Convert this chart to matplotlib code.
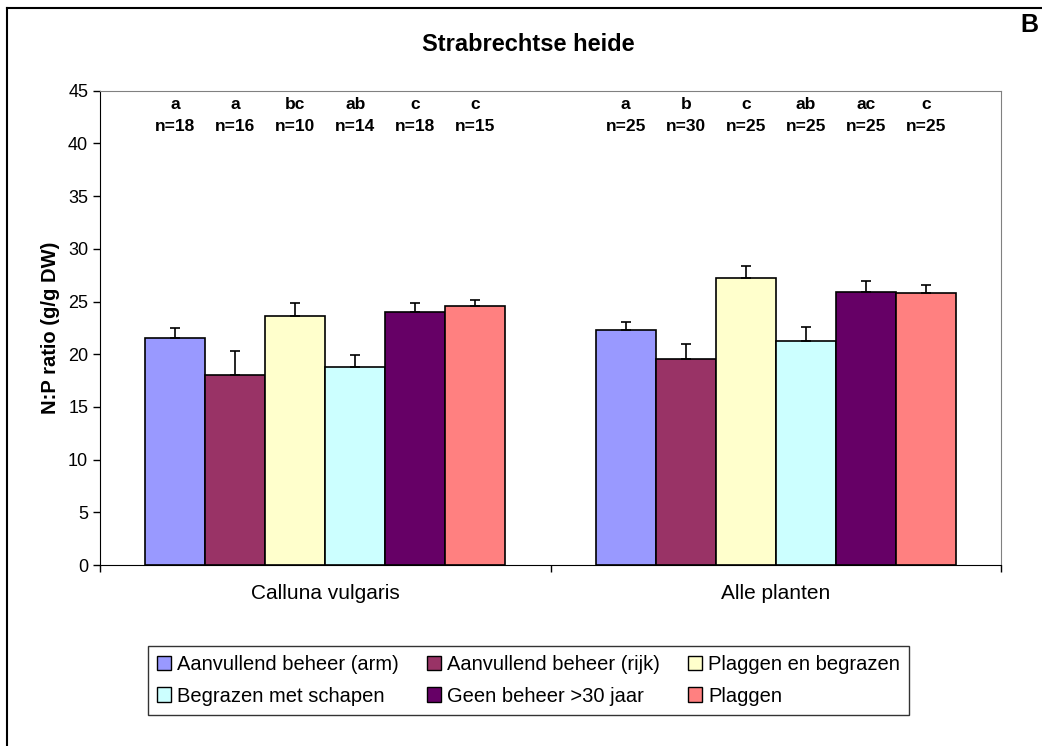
import numpy as np
import matplotlib
matplotlib.use("Agg")
import matplotlib.pyplot as plt
from matplotlib.lines import Line2D
from matplotlib.patches import Patch

plt.rcParams['font.family'] = ['Liberation Sans', 'DejaVu Sans']

groepen = ['Calluna vulgaris', 'Alle planten']
behandelingen = ['Aanvullend beheer (arm)', 'Aanvullend beheer (rijk)', 'Plaggen en begrazen',
                 'Begrazen met schapen', 'Geen beheer >30 jaar', 'Plaggen']
kleuren = ['#9999FF', '#993366', '#FFFFCC', '#CCFFFF', '#660066', '#FF8080']

# N:P ratio per behandeling, [Calluna, Alle planten]
np_ratio = [[21.5, 22.3],
            [18.0, 19.5],
            [23.6, 27.2],
            [18.8, 21.3],
            [24.0, 25.9],
            [24.6, 25.8]]
fout = [[1.0, 0.8],
        [2.3, 1.5],
        [1.3, 1.2],
        [1.1, 1.3],
        [0.9, 1.0],
        [0.5, 0.8]]
letters = [['a', 'a', 'bc', 'ab', 'c', 'c'],
           ['a', 'b', 'c', 'ab', 'ac', 'c']]
n_waarden = [['n=18', 'n=16', 'n=10', 'n=14', 'n=18', 'n=15'],
             ['n=25', 'n=30', 'n=25', 'n=25', 'n=25', 'n=25']]

fig = plt.figure(figsize=(10.42, 7.46), dpi=100)
ax = fig.add_axes([0.096, 0.2426, 0.8647, 0.6358])

x = np.arange(len(groepen))
w = 0.8 / len(behandelingen)
for j in range(len(behandelingen)):
    pos = x + (j - 2.5) * w
    ax.bar(pos, np_ratio[j], width=w, color=kleuren[j], edgecolor='black', linewidth=1.2, zorder=2)
    ax.errorbar(pos, np_ratio[j], yerr=[np.zeros(len(x)), fout[j]], fmt='none',
                ecolor='black', elinewidth=1.2, capsize=3.6, capthick=1.2, zorder=3)
    for i in range(len(groepen)):
        ax.text(pos[i], 43.7, letters[i][j], ha='center', va='center', fontsize=12.5, fontweight='bold')
        ax.text(pos[i], 41.6, n_waarden[i][j], ha='center', va='center', fontsize=12.5, fontweight='bold')

ax.set_xlim(-0.5, 1.5)
ax.set_ylim(0, 45)
ax.set_yticks(range(0, 46, 5))
ax.tick_params(axis='y', direction='out', length=5, labelsize=13, width=1)
ax.set_xticks(x)
ax.set_xticklabels(groepen, fontsize=15)
ax.tick_params(axis='x', length=0, pad=14)
ax.set_xticks([-0.5, 0.5, 1.5], minor=True)
ax.tick_params(axis='x', which='minor', direction='out', length=5, width=1)
for s in ['top', 'right']:
    ax.spines[s].set_color('#808080')
for s in ['left', 'bottom']:
    ax.spines[s].set_color('black')

ax.set_ylabel('N:P ratio (g/g DW)', fontsize=14.5, fontweight='bold', labelpad=6)

fig.text(0.507, 0.941, 'Strabrechtse heide', ha='center', va='center', fontsize=17, fontweight='bold')
fig.text(0.988, 0.966, 'B', ha='center', va='center', fontsize=18, fontweight='bold')

volgorde = [0, 3, 1, 4, 2, 5]
handles = [Patch(facecolor=kleuren[k], edgecolor='black', linewidth=1) for k in volgorde]
labels = [behandelingen[k] for k in volgorde]
leg = fig.legend(handles, labels, ncol=3, loc='center', bbox_to_anchor=(0.507, 0.0878),
                 fontsize=14.5, frameon=True, fancybox=False, edgecolor='black',
                 handlelength=0.7, handleheight=0.7, handletextpad=0.3,
                 columnspacing=1.4, borderpad=0.45, borderaxespad=0, labelspacing=0.6)
leg.get_frame().set_linewidth(1)

fig.add_artist(Line2D([7 / 1042, 1], [1 - 8 / 746, 1 - 8 / 746], color='black', linewidth=1.5))
fig.add_artist(Line2D([7 / 1042, 7 / 1042], [0, 1 - 8 / 746], color='black', linewidth=1.5))

fig.savefig('out.png', dpi=100)
